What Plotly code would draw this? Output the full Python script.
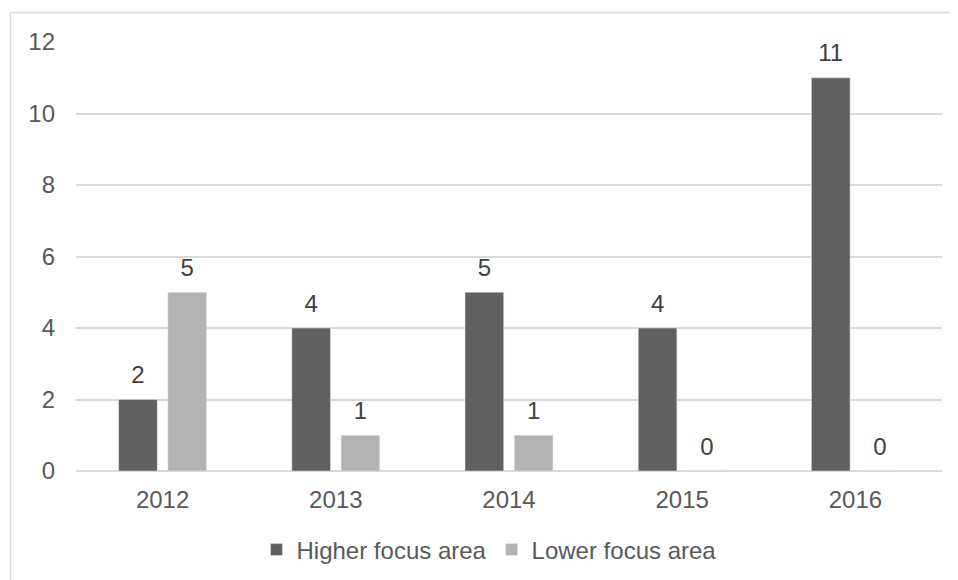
import plotly.graph_objects as go

years = ["2012", "2013", "2014", "2015", "2016"]
higher = [2, 4, 5, 4, 11]
lower = [5, 1, 1, 0, 0]
series_names = ["Higher focus area", "Lower focus area"]
y_ticks = [0, 2, 4, 6, 8, 10, 12]

FONT = "Liberation Sans, Arial, sans-serif"
FS = 24
W, H = 958, 580
OFF = 8  # default page body margin
L, R, T, B = 76 - OFF, 16 + OFF, 42 - OFF, 109 + OFF
pw = W - L - R
ph = H - T - B
BARGAP = 0.431


def py(pix):
    return (T + ph - (pix - OFF)) / ph


def px(pix):
    return ((pix - OFF) - L) / pw


colors = ["#606060", "#b3b3b3"]
fig = go.Figure()
for i, (name, vals, col) in enumerate(zip(series_names, [higher, lower], colors)):
    fig.add_trace(go.Bar(x=years, y=vals, name=name, marker_color=col,
                         offsetgroup=str(i), alignmentgroup="a", hoverinfo="skip"))

# data labels as text-only scatter traces grouped like the bars
for i, vals in enumerate([higher, lower]):
    fig.add_trace(go.Scatter(x=years, y=vals, mode="text+markers", text=[str(v) for v in vals],
                             textposition="top center", showlegend=False, hoverinfo="skip",
                             offsetgroup=str(i), alignmentgroup="a", cliponaxis=False,
                             marker=dict(size=15, opacity=0),
                             textfont=dict(size=FS, color="#404040", family=FONT)))

fig.add_shape(type="rect", xref="paper", yref="paper",
              x0=px(10.5), x1=px(957), y0=py(620), y1=py(12.5),
              line=dict(color="#d9d9d9", width=1.5), fillcolor="rgba(0,0,0,0)", layer="below")

fig.update_layout(
    width=W, height=H,
    margin=dict(l=L, r=R, t=T, b=B),
    plot_bgcolor="white", paper_bgcolor="white",
    barmode="group", bargap=BARGAP, bargroupgap=0.215,
    scattermode="group", scattergap=BARGAP,
    font=dict(family=FONT, size=FS, color="#595959"),
    showlegend=True,
    legend=dict(orientation="h", x=px(489), xanchor="center", y=py(550),
                yanchor="middle", font=dict(size=FS, color="#595959"),
                itemwidth=30, traceorder="normal"),
    xaxis=dict(type="category", showgrid=False, showline=False, ticks="",
               tickfont=dict(size=FS, color="#595959"), ticklabelstandoff=12),
    yaxis=dict(range=[0, 12], tickvals=y_ticks, showgrid=True, gridcolor="#d9d9d9", gridwidth=1.5,
               zeroline=True, zerolinecolor="#d9d9d9", zerolinewidth=1.5, showline=False,
               tickfont=dict(size=FS, color="#595959"), ticklabelstandoff=20),
)

fig.write_html("out.html", config={"displayModeBar": False})
